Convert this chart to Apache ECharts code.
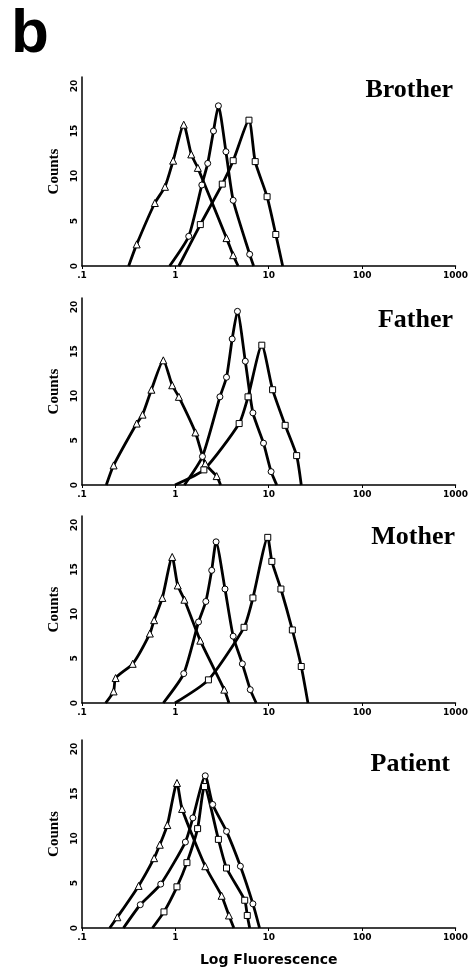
<!DOCTYPE html>
<html>
<head>
<meta charset="utf-8">
<title>Log Fluorescence</title>
<script src="https://cdn.jsdelivr.net/npm/echarts@6.0.0/dist/echarts.min.js"></script>
<style>
	body { margin: 0; background: #fff; }
	#chart { width: 471px; height: 970px; }
</style>
</head>
<body>
<div id="chart"></div>
<script>
/*---------- 数据 ----------*/
var panelNames = ['Brother', 'Father', 'Mother', 'Patient'];
var xTicks = [0.1, 1, 10, 100, 1000];
var yTicks = [0, 5, 10, 15, 20];

// [荧光强度, 计数]
var brotherTri = [[0.316,0],[0.385,2.4],[0.603,7.0],[0.774,8.8],[0.947,11.7],[1.23,15.7],[1.48,12.4],[1.74,10.9],[3.53,3.1],[4.16,1.2],[4.7,0]];
var brotherCirc = [[0.868,0],[1.39,3.3],[1.92,9.0],[2.22,11.4],[2.56,15.0],[2.89,17.8],[3.48,12.7],[4.16,7.3],[6.25,1.3],[6.89,0]];
var brotherSq = [[1.09,0],[1.85,4.6],[3.18,9.1],[4.16,11.7],[6.14,16.2],[7.16,11.6],[9.6,7.7],[11.9,3.5],[14.1,0]];

var fatherTri = [[0.182,0],[0.218,2.2],[0.385,6.9],[0.445,7.9],[0.554,10.7],[0.743,14.0],[0.925,11.2],[1.09,9.9],[1.64,5.9],[2.09,2.4],[2.77,1.0],[3.05,0]];
var fatherCirc = [[1.25,0],[1.95,3.2],[3.0,9.9],[3.53,12.1],[4.06,16.4],[4.62,19.5],[5.61,13.9],[6.77,8.1],[8.79,4.7],[10.6,1.5],[12.2,0]];
var fatherSq = [[0.99,0],[2.02,1.7],[4.82,6.9],[6.0,9.9],[8.43,15.7],[11.0,10.7],[15.0,6.7],[19.9,3.3],[22.3,0]];

var motherTri = [[0.179,0],[0.218,1.3],[0.229,2.8],[0.349,4.4],[0.533,7.8],[0.592,9.3],[0.725,11.8],[0.925,16.4],[1.06,13.2],[1.25,11.6],[1.85,7.0],[3.34,1.5],[3.75,0]];
var motherCirc = [[0.743,0],[1.23,3.3],[1.77,9.1],[2.12,11.4],[2.45,14.9],[2.73,18.1],[3.40,12.8],[4.16,7.5],[5.22,4.4],[6.34,1.5],[7.34,0]];
var motherSq = [[0.99,0],[2.26,2.6],[5.44,8.5],[6.77,11.8],[9.76,18.6],[10.8,15.9],[13.5,12.8],[17.9,8.2],[22.3,4.1],[26.3,0]];

var patientTri = [[0.198,0],[0.239,1.2],[0.404,4.7],[0.592,7.8],[0.681,9.3],[0.82,11.5],[1.04,16.2],[1.18,13.3],[2.09,6.9],[3.13,3.6],[3.75,1.4],[4.23,0]];
var patientCirc = [[0.278,0],[0.421,2.6],[0.697,4.9],[1.28,9.6],[1.54,12.3],[2.09,17.0],[2.51,13.8],[3.53,10.8],[4.97,6.9],[6.77,2.7],[7.97,0]];
var patientSq = [[0.568,0],[0.755,1.8],[1.04,4.6],[1.33,7.3],[1.73,11.1],[2.05,15.8],[2.89,9.9],[3.53,6.7],[5.53,3.1],[5.89,1.4],[6.25,0]];

var panelData = [
	[brotherTri, brotherCirc, brotherSq],
	[fatherTri, fatherCirc, fatherSq],
	[motherTri, motherCirc, motherSq],
	[patientTri, patientCirc, patientSq]
];
/*-------------------------*/

/*---------- 布局 ----------*/
var panelTop = [77, 298, 516, 740];
var panelHeight = [189, 187, 187, 188];
var titleX = [453, 453, 455, 450];
var titleY = [90, 320, 537, 764];
var shapes = ['triangle', 'circle', 'rect'];
var shapeSize = [7, 6, 6];
/*-------------------------*/

function markPoints(points, shape) {
	// 基线上的端点不画标记
	return points.map(function(p) {
		return p[1] === 0 ? { value: p, symbol: 'none' } : { value: p, symbol: shape };
	});
}

var grids = [], xAxes = [], yAxes = [], series = [], graphics = [];

graphics.push({
	type: 'text',
	left: 11,
	top: 4,
	style: { text: 'b', font: 'bold 62px "Liberation Sans"', fill: '#000' }
});

for (var i = 0; i < panelNames.length; i++) {
	grids.push({ left: 82, right: 11, top: panelTop[i], height: panelHeight[i] });
	xAxes.push({
		type: 'log',
		logBase: 10,
		gridIndex: i,
		min: xTicks[0],
		max: xTicks[xTicks.length - 1],
		name: i === panelNames.length - 1 ? 'Log Fluorescence' : '',
		nameLocation: 'middle',
		nameGap: 25,
		nameTextStyle: { fontFamily: 'DejaVu Sans', fontWeight: 'bold', fontSize: 14, color: '#000' },
		axisLine: { lineStyle: { color: '#000', width: 1.5 } },
		axisTick: { show: true, length: 3, lineStyle: { color: '#000' } },
		minorTick: { show: false },
		splitLine: { show: false },
		axisLabel: {
			margin: 5,
			fontFamily: 'DejaVu Sans',
			fontWeight: 'bold',
			fontSize: 9,
			color: '#000',
			showMinLabel: true,
			showMaxLabel: true,
			formatter: function(v) {
				return v < 0.5 ? '.1' : String(Math.round(v));
			}
		}
	});
	yAxes.push({
		type: 'value',
		gridIndex: i,
		min: yTicks[0],
		max: 21,
		interval: 5,
		name: 'Counts',
		nameLocation: 'middle',
		nameRotate: 90,
		nameGap: 14,
		nameTextStyle: { fontFamily: 'Liberation Serif', fontWeight: 'bold', fontSize: 15, color: '#000' },
		axisLine: { show: true, lineStyle: { color: '#000', width: 1.5 } },
		axisTick: { show: false },
		splitLine: { show: false },
		axisLabel: {
			rotate: 90,
			margin: 3,
			fontFamily: 'DejaVu Sans',
			fontWeight: 'bold',
			fontSize: 9,
			color: '#000',
			formatter: function(v) {
				return yTicks.indexOf(v) >= 0 ? String(v) : '';
			}
		}
	});
	for (var j = 0; j < 3; j++) {
		series.push({
			type: 'line',
			xAxisIndex: i,
			yAxisIndex: i,
			data: markPoints(panelData[i][j], shapes[j]),
			smooth: 0.2,
			symbolSize: shapeSize[j],
			showAllSymbol: true,
			lineStyle: { color: '#000', width: 2.8 },
			itemStyle: { color: '#fff', borderColor: '#000', borderWidth: 1 },
			emphasis: { disabled: true }
		});
	}
	graphics.push({
		type: 'text',
		x: titleX[i],
		y: titleY[i],
		style: {
			text: panelNames[i],
			align: 'right',
			verticalAlign: 'middle',
			font: 'bold 26px "Liberation Serif"',
			fill: '#000'
		}
	});
}

var myChart = echarts.init(document.getElementById('chart'));
myChart.setOption({
	animation: false,
	backgroundColor: '#fff',
	grid: grids,
	xAxis: xAxes,
	yAxis: yAxes,
	series: series,
	graphic: graphics
});
</script>
</body>
</html>
